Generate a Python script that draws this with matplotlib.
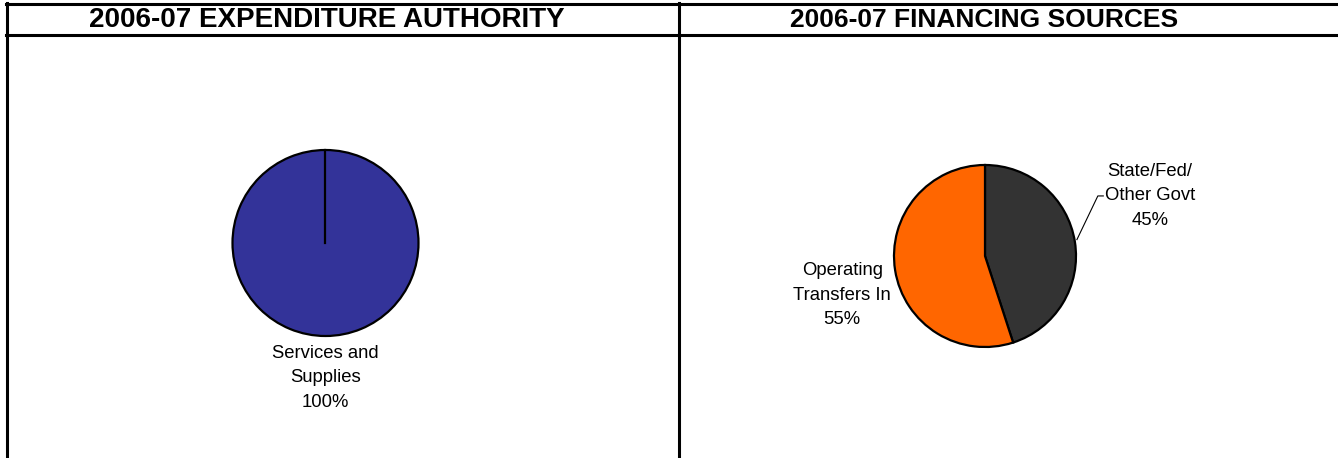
import matplotlib
matplotlib.use("Agg")
import matplotlib.pyplot as plt
from matplotlib.lines import Line2D

plt.rcParams["font.family"] = ["Liberation Sans", "DejaVu Sans"]

# Data
left_title = "2006-07 EXPENDITURE AUTHORITY"
left_labels = ["Services and\nSupplies\n100%"]
left_values = [100]
left_colors = ["#333399"]

right_title = "2006-07 FINANCING SOURCES"
right_labels = ["State/Fed/\nOther Govt\n45%", "Operating\nTransfers In\n55%"]
right_values = [45, 55]
right_colors = ["#333333", "#FF6600"]

W, H = 1338, 458
fig = plt.figure(figsize=(W / 100, H / 100), dpi=100)

_WEDGE = dict(edgecolor="black", linewidth=1.6)
_LABEL_FS = 13.3
_LSP = 1.6


def pie_axes(x0, y0, x1, y1, cx, cy, r, values, colors):
    """axes over a pixel box, data units = pie radius, centred at (cx, cy)"""
    ax = fig.add_axes([x0 / W, 1 - y1 / H, (x1 - x0) / W, (y1 - y0) / H])
    ax.pie(values, colors=colors, startangle=90, counterclock=False,
           wedgeprops=_WEDGE, frame=True)
    ax.set_xlim((x0 - cx) / r, (x1 - cx) / r)
    ax.set_ylim((cy - y1) / r, (cy - y0) / r)
    ax.set_aspect("auto")
    ax.axis("off")
    return ax


# Left pie
axl = pie_axes(9, 38, 677, 458, 325.5, 243, 93, left_values, left_colors)
axl.plot([0, 0], [0, 1], color="black", linewidth=1.6)
axl.text(0, -1.45, left_labels[0], ha="center", va="center",
         fontsize=_LABEL_FS, linespacing=_LSP)

# Right pie
axr = pie_axes(681, 38, 1338, 458, 985, 256, 91, right_values, right_colors)
axr.text(1.81, 0.66, right_labels[0], ha="center", va="center",
         fontsize=_LABEL_FS, linespacing=_LSP)
axr.text(-1.57, -0.43, right_labels[1], ha="center", va="center",
         fontsize=_LABEL_FS, linespacing=_LSP)
axr.plot([1.01, 1.24, 1.30], [0.18, 0.66, 0.66], color="black", linewidth=0.8)

# Titles
fig.text(327 / W, 1 - 20 / H, left_title, ha="center", va="center",
         fontsize=20, fontweight="bold")
fig.text(984 / W, 1 - 20 / H, right_title, ha="center", va="center",
         fontsize=19, fontweight="bold")

# Frame lines
lw = 2.2


def hline(y, x0=6, x1=W):
    fig.add_artist(Line2D([x0 / W, x1 / W], [1 - y / H, 1 - y / H],
                          color="black", linewidth=lw, transform=fig.transFigure))


def vline(x, y0=3, y1=H):
    fig.add_artist(Line2D([x / W, x / W], [1 - y0 / H, 1 - y1 / H],
                          color="black", linewidth=lw, transform=fig.transFigure))


hline(4)
hline(35)
vline(7)
vline(679)

fig.savefig("out.png", dpi=100)
